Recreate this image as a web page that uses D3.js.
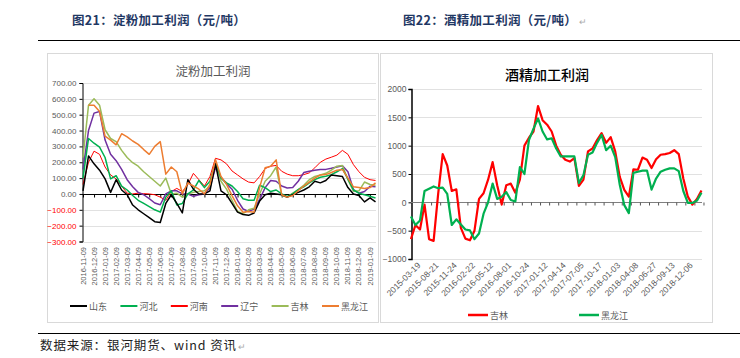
<!DOCTYPE html>
<html><head><meta charset="utf-8">
<script src="https://cdn.jsdelivr.net/npm/d3@7"></script>
<style>body{margin:0;background:#fff} svg{display:block}</style>
</head><body>
<svg id="c" width="740" height="358"></svg>
<script>
// ---------- DATA: starch processing profit (元/吨), sampled every half month from 2016-11-09 ----------
const starchStep = 0.5;
const starchTickLabels = ["2016-11-09","2016-12-09","2017-01-09","2017-02-09","2017-03-09","2017-04-09","2017-05-09","2017-06-09","2017-07-09","2017-08-09","2017-09-09","2017-10-09","2017-11-09","2017-12-09","2018-01-09","2018-02-09","2018-03-09","2018-04-09","2018-05-09","2018-06-09","2018-07-09","2018-08-09","2018-09-09","2018-10-09","2018-11-09","2018-12-09","2019-01-09"];
const starchYTicks = [700,600,500,400,300,200,100,0,-100,-200,-300];
const shandong = [20,240,190,150,95,10,90,25,-5,-70,-100,-125,-150,-175,-180,-60,-5,-60,-120,90,30,0,0,20,190,20,-5,-60,-115,-130,-135,-120,-45,-5,5,0,-5,-20,-5,10,25,45,80,70,85,120,115,110,40,0,-10,-50,-25,-50];
const hebei = [100,350,320,295,230,95,115,50,25,-10,-40,-60,-80,-100,-115,-20,20,-70,-60,0,25,85,40,80,200,100,70,50,15,-30,-40,-40,55,40,15,25,0,-15,0,27,45,70,90,105,112,122,140,160,95,25,5,-5,-15,-25];
const henan = [60,200,270,250,170,120,95,50,5,0,5,2,0,-5,-20,-40,15,35,15,60,130,90,50,110,225,215,190,145,120,95,75,70,110,160,175,180,143,125,115,115,122,133,165,200,220,232,245,275,250,185,140,105,90,85];
const liaoning = [155,400,510,520,340,250,210,155,90,45,10,-5,-30,-57,-68,0,20,20,0,0,-15,-5,0,40,165,105,65,30,-40,-95,-110,-95,-35,40,85,80,50,38,40,80,135,143,150,155,155,162,170,178,140,27,5,15,48,45];
const jilinStarch = [230,560,600,560,405,350,330,275,230,197,175,140,110,80,50,100,0,5,-20,0,10,15,20,50,200,80,30,-40,-110,-125,-100,-90,0,80,115,170,-10,-20,5,27,55,90,110,120,130,150,175,180,90,17,20,75,60,55];
const hljStarch = [null,560,560,520,365,340,310,380,360,334,313,280,250,300,330,125,170,140,0,70,50,30,0,60,218,110,60,-10,-75,-115,-110,-115,40,165,175,215,-5,-20,-10,20,50,75,100,120,122,135,150,155,100,45,40,35,40,70];
const starchNames = ["山东","河北","河南","辽宁","吉林","黑龙江"];

// ---------- DATA: alcohol processing profit, sampled every quarter label interval ----------
const alcStart = -0.5, alcStep = 0.25;
const alcTickLabels = ["2015-03-19","2015-08-21","2015-11-24","2016-02-22","2016-05-12","2016-08-01","2016-10-24","2017-01-12","2017-04-14","2017-07-05","2017-10-17","2018-01-03","2018-04-08","2018-06-27","2018-09-13","2018-12-06"];
const alcYTicks = [2000,1500,1000,500,0,-500,-1000];
const jilinAlc = [-650,-400,-480,-40,-650,-680,150,850,650,200,230,-450,-640,-670,-500,60,160,400,710,300,-40,300,330,170,400,1000,1140,1250,1700,1450,1370,1250,1000,840,750,720,780,290,400,900,950,1100,1220,1050,1150,900,450,220,100,580,575,790,750,605,760,840,850,870,920,850,420,100,-40,60,210];
const hljAlc = [-250,-400,-320,200,240,280,250,260,150,-400,-300,-390,-480,-495,-650,-550,-200,0,330,60,100,180,40,15,620,500,1100,1300,1480,1250,1110,1130,950,810,810,810,810,340,480,840,880,1050,1190,920,1000,800,310,-50,-190,520,540,560,560,225,420,540,575,600,600,550,200,-10,-10,30,170];
const alcNames = ["吉林","黑龙江"];

// ---------- DRAW ----------
const svg = d3.select("#c");
const CJK = "'Noto Sans CJK SC','Noto Sans',sans-serif";
const NUM = "'Liberation Sans',Arial,sans-serif";
const GRID = "#d9d9d9", LBL = "#595959";

// Header
svg.append("text").attr("x",72).attr("y",25).attr("font-family",CJK).attr("font-size",12.5).attr("font-weight","bold").attr("fill","#1f3864").attr("letter-spacing",0.3).text("图21：淀粉加工利润（元/吨）");
const h2 = svg.append("text").attr("x",403).attr("y",25).attr("font-family",CJK).attr("font-size",12.5).attr("font-weight","bold").attr("fill","#1f3864").attr("letter-spacing",0.3);
h2.append("tspan").text("图22：酒精加工利润（元/吨）");
h2.append("tspan").attr("dx",2).attr("font-family",NUM).attr("font-size",9).attr("font-weight","normal").attr("fill","#aaa").text("↵");
svg.append("line").attr("x1",38).attr("x2",740).attr("y1",40.5).attr("y2",40.5).attr("stroke","#000").attr("stroke-width",1.2);

// panel frames
svg.append("rect").attr("x",47.5).attr("y",53.5).attr("width",331).attr("height",269).attr("fill","none").attr("stroke",GRID);
svg.append("rect").attr("x",380.5).attr("y",53.5).attr("width",332).attr("height",269).attr("fill","none").attr("stroke",GRID);

// footer
svg.append("line").attr("x1",38).attr("x2",740).attr("y1",333.5).attr("y2",333.5).attr("stroke","#000").attr("stroke-width",1);
const ft = svg.append("text").attr("x",40).attr("y",350).attr("font-family",CJK).attr("font-size",12.5).attr("fill","#222").attr("letter-spacing",0.9);
ft.append("tspan").text("数据来源：银河期货、wind 资讯");
ft.append("tspan").attr("dx",1).attr("font-family",NUM).attr("font-size",9).attr("fill","#aaa").text("↵");

// ===== Left chart =====
const xL = d3.scaleLinear().domain([0, starchTickLabels.length-1]).range([83, 370]);
const yL = d3.scaleLinear().domain([-300, 700]).range([241.5, 83]);
const gL = svg.append("g");
gL.append("text").attr("x",213).attr("y",76).attr("text-anchor","middle").attr("font-family",CJK).attr("font-size",12.5).attr("fill",LBL).text("淀粉加工利润");
starchYTicks.filter(v=>v!==0).forEach(v=>{
  gL.append("line").attr("x1",82).attr("x2",376).attr("y1",Math.round(yL(v))+0.5).attr("y2",Math.round(yL(v))+0.5).attr("stroke",GRID).attr("stroke-width",0.8);
});
const yAxisL = d3.axisLeft(yL).tickValues(starchYTicks).tickSize(3).tickFormat(d=>d3.format(".2f")(d));
const ga = gL.append("g").attr("transform","translate(82.5,0)").call(yAxisL);
ga.select(".domain").attr("stroke","#000");
ga.selectAll("line").attr("stroke","#000");
ga.selectAll("text").attr("font-family",NUM).attr("font-size",8).attr("fill",d=>d<0?"#ff0000":LBL).attr("x",-6);
const xAxisL = d3.axisBottom(xL).tickValues(d3.range(starchTickLabels.length)).tickSize(3).tickFormat("");
const gx = gL.append("g").attr("transform",`translate(0,${Math.round(yL(0))+0.5})`).call(xAxisL);
gx.select(".domain").attr("d",`M82,0H376`).attr("stroke","#000");
gx.selectAll("line").attr("stroke","#000");
starchTickLabels.forEach((t,i)=>{
  gL.append("text").attr("transform",`translate(${xL(i)+2.5},247) rotate(-90)`).attr("text-anchor","end")
    .attr("font-family",NUM).attr("font-size",7.5).attr("fill",LBL).text(t);
});
const starchSeries = [
  {name:starchNames[0], data:shandong, color:"#000000", w:1.5},
  {name:starchNames[1], data:hebei, color:"#00b050", w:1.5},
  {name:starchNames[2], data:henan, color:"#ff0000", w:1},
  {name:starchNames[3], data:liaoning, color:"#7030a0", w:1.5},
  {name:starchNames[4], data:jilinStarch, color:"#9bbb59", w:1.5},
  {name:starchNames[5], data:hljStarch, color:"#ed7d31", w:1.5}
];
const lineL = d3.line().defined(d=>d!=null).x((d,i)=>xL(i*starchStep)).y(d=>yL(d));
[2,3,4,1,0,5].forEach(k=>{
  const s = starchSeries[k];
  gL.append("path").attr("d",lineL(s.data)).attr("fill","none").attr("stroke",s.color).attr("stroke-width",s.w).attr("stroke-linejoin","round");
});
starchSeries.forEach((s,i)=>{
  const lx = 70 + i*50.4;
  gL.append("line").attr("x1",lx).attr("x2",lx+17).attr("y1",306).attr("y2",306).attr("stroke",s.color).attr("stroke-width",2);
  gL.append("text").attr("x",lx+19).attr("y",309.5).attr("font-family",CJK).attr("font-size",9).attr("fill",LBL).text(s.name);
});

// ===== Right chart =====
const xR = d3.scaleLinear().domain([0, alcTickLabels.length-1]).range([420, 692.4]);
const yR = d3.scaleLinear().domain([-1000, 2000]).range([259, 89]);
const gR = svg.append("g");
gR.append("text").attr("x",547).attr("y",80).attr("text-anchor","middle").attr("font-family",CJK).attr("font-size",14).attr("font-weight",500).attr("fill","#000").text("酒精加工利润");
alcYTicks.filter(v=>v!==0).forEach(v=>{
  gR.append("line").attr("x1",411).attr("x2",702).attr("y1",Math.round(yR(v))+0.5).attr("y2",Math.round(yR(v))+0.5).attr("stroke",GRID).attr("stroke-width",0.8);
});
const yAxisR = d3.axisLeft(yR).tickValues(alcYTicks).tickSize(3).tickFormat(d3.format("d"));
const gb = gR.append("g").attr("transform","translate(411.5,0)").call(yAxisR);
gb.select(".domain").attr("stroke","#000").attr("stroke-width",1.5);
gb.selectAll("line").attr("stroke","#000");
gb.selectAll("text").attr("font-family",NUM).attr("font-size",8.5).attr("fill",LBL).attr("x",-5);
const tickPos = d3.range(0, alcTickLabels.length - 0.5 + 0.01, 0.5);
const gz = gR.append("g").attr("transform",`translate(0,${Math.round(yR(0))+0.5})`);
gz.append("line").attr("x1",411).attr("x2",702).attr("stroke","#7f7f7f").attr("stroke-width",1);
tickPos.forEach(p=>{
  gz.append("line").attr("x1",xR(p)+2.5).attr("x2",xR(p)+2.5).attr("y1",0).attr("y2",3).attr("stroke","#555");
});
alcTickLabels.forEach((t,i)=>{
  gR.append("text").attr("transform",`translate(${xR(i)+1},266) rotate(-45)`).attr("text-anchor","end")
    .attr("font-family",NUM).attr("font-size",8.5).attr("fill",LBL).text(t);
});
const alcSeries = [
  {name:alcNames[0], data:jilinAlc, color:"#ff0000"},
  {name:alcNames[1], data:hljAlc, color:"#00b050"}
];
const lineR = d3.line().x((d,i)=>xR(alcStart + i*alcStep)).y(d=>yR(d));
alcSeries.forEach(s=>{
  gR.append("path").attr("d",lineR(s.data)).attr("fill","none").attr("stroke",s.color).attr("stroke-width",2.2).attr("stroke-linejoin","round");
});
alcSeries.forEach((s,i)=>{
  const lx = 468 + i*111;
  gR.append("line").attr("x1",lx).attr("x2",lx+20).attr("y1",315).attr("y2",315).attr("stroke",s.color).attr("stroke-width",2.5);
  gR.append("text").attr("x",lx+22).attr("y",318.5).attr("font-family",CJK).attr("font-size",9).attr("fill",LBL).text(s.name);
});
</script>
</body></html>
